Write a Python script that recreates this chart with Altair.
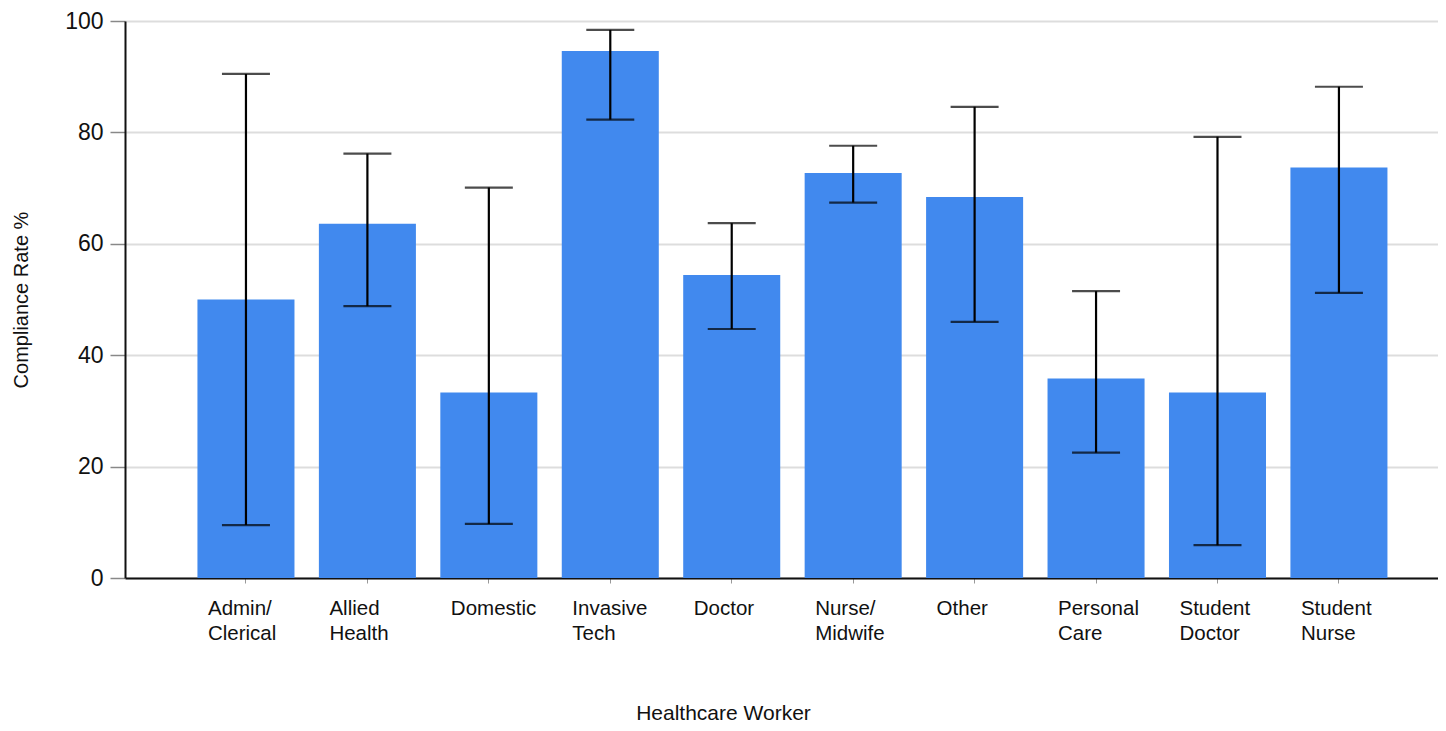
import altair as alt
import pandas as pd

categories = ["Admin/Clerical", "Allied Health", "Domestic", "Invasive Tech", "Doctor",
              "Nurse/Midwife", "Other", "Personal Care", "Student Doctor", "Student Nurse"]
label_lines = ["Admin/\nClerical", "Allied\nHealth", "Domestic", "Invasive\nTech", "Doctor",
               "Nurse/\nMidwife", "Other", "Personal\nCare", "Student\nDoctor", "Student\nNurse"]
rates = [50.0, 63.6, 33.3, 94.6, 54.4, 72.7, 68.4, 35.8, 33.3, 73.7]
lower = [9.5, 48.8, 9.7, 82.3, 44.7, 67.4, 46.0, 22.5, 5.9, 51.2]
upper = [90.5, 76.2, 70.1, 98.4, 63.7, 77.6, 84.6, 51.5, 79.2, 88.2]

df = pd.DataFrame({"worker": label_lines, "rate": rates, "lo": lower, "hi": upper})

FONT = "Liberation Sans"

x_enc = alt.X(
    "worker:N",
    sort=label_lines,
    title="Healthcare Worker",
    scale=alt.Scale(paddingInner=0.201, paddingOuter=0.5064, align=0.589),
    axis=alt.Axis(
        labelAngle=0,
        labelAlign="left",
        labelOffset=-38,
        labelBaseline="top",
        labelFont=FONT,
        labelFontSize=20.5,
        labelLineHeight=25,
        labelPadding=15,
        labelColor="#111111",
        labelExpr="split(datum.label, '\\n')",
        tickSize=5,
        tickColor="#999999",
        tickWidth=1,
        domainColor="#111111",
        domainWidth=2,
        titleFont=FONT,
        titleFontSize=21,
        titleFontWeight="normal",
        titleColor="#111111",
        titleX=598,
        titleY=135,
        titleAlign="center",
        titleBaseline="middle",
        titleAnchor="start",
    ),
)

y_axis = alt.Axis(
    values=[0, 20, 40, 60, 80, 100],
    labelFont=FONT,
    labelFontSize=23,
    labelColor="#111111",
    labelPadding=7,
    tickSize=15,
    tickColor="#888888",
    tickWidth=1.5,
    domainColor="#111111",
    domainWidth=2,
    gridColor="#dddddd",
    gridWidth=2,
    title="Compliance Rate %",
    titleFont=FONT,
    titleFontSize=20,
    titleFontWeight="normal",
    titleColor="#111111",
    titlePadding=33,
)

base = alt.Chart(df)

bars = base.mark_bar(color="#4189EE").encode(
    x=x_enc,
    y=alt.Y("rate:Q", scale=alt.Scale(domain=[0, 100], nice=False), axis=y_axis),
)

rule = base.mark_rule(color="black", strokeWidth=2.2).encode(
    x=alt.X("worker:N", sort=label_lines),
    y="lo:Q",
    y2="hi:Q",
)

tick_lo = base.mark_tick(color="black", size=48, thickness=2.2).encode(
    x=alt.X("worker:N", sort=label_lines),
    y="lo:Q",
)
tick_hi = base.mark_tick(color="black", size=48, thickness=2.2).encode(
    x=alt.X("worker:N", sort=label_lines),
    y="hi:Q",
)

chart = alt.layer(bars, rule, tick_lo, tick_hi).properties(
    width=1313,
    height=557,
    autosize=alt.AutoSizeParams(type="none"),
    padding={"left": 117, "top": 13, "right": 0, "bottom": 145},
).configure_view(stroke=None).configure_axis(labelLimit=300)

chart.save("out.html", embed_options={"renderer": "svg", "actions": False})
